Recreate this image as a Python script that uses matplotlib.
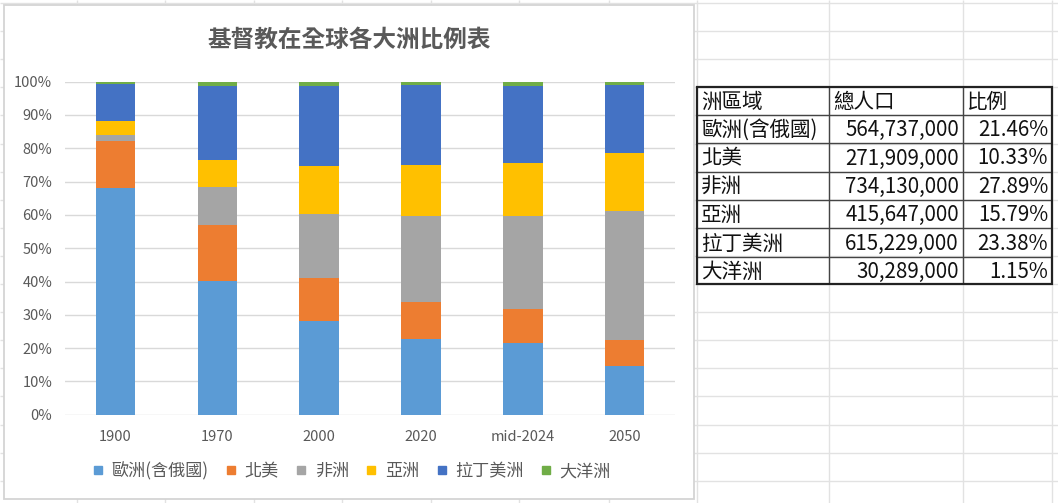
"""Stacked 100% column chart of Christian population share by continent,
next to the small worksheet table it was built from (Excel-style screenshot)."""
import matplotlib

matplotlib.use("Agg")
import matplotlib.pyplot as plt
from matplotlib.lines import Line2D
from matplotlib.patches import Rectangle
from matplotlib.ticker import PercentFormatter
import numpy as np

plt.rcParams["font.family"] = ["Noto Sans CJK TC", "DejaVu Sans"]

# ---- data -------------------------------------------------------------
years = ["1900", "1970", "2000", "2020", "mid-2024", "2050"]
regions = ["歐洲(含俄國)", "北美", "非洲", "亞洲", "拉丁美洲", "大洋洲"]
colors = ["#5B9BD5", "#ED7D31", "#A5A5A5", "#FFC000", "#4472C4", "#70AD47"]

# share of each continent (%) per year
europe = [68.2, 40.1, 28.2, 22.6, 21.46, 14.7]
north_america = [14.1, 16.8, 13.0, 11.1, 10.33, 7.7]
africa = [1.8, 11.5, 19.2, 26.1, 27.89, 38.7]
asia = [4.0, 8.0, 14.2, 15.3, 15.79, 17.6]
latin_america = [11.1, 22.2, 24.2, 23.8, 23.38, 20.3]
oceania = [0.8, 1.4, 1.2, 1.1, 1.15, 1.0]

# worksheet table (mid-2024)
table_header = ["洲區域", "總人口", "比例"]
table_pop = [564737000, 271909000, 734130000, 415647000, 615229000, 30289000]

W, H = 1058, 503
fig = plt.figure(figsize=(W / 100, H / 100), dpi=100)

# background "sheet" axes in pixel coordinates
bg = fig.add_axes([0, 0, 1, 1])
bg.set_xlim(0, W)
bg.set_ylim(H, 0)
bg.axis("off")

# Excel cell grid
sheet_cols = [76.7, 165, 254, 342, 431, 519, 609, 697, 829, 963, 1052]
sheet_rows = 3 + 28.1 * np.arange(18)
bg.vlines(sheet_cols, 0, H, color="#E2E2E2", lw=1, zorder=1)
bg.hlines(sheet_rows, 0, W, color="#E2E2E2", lw=1, zorder=1)

# chart area
bg.add_patch(Rectangle((4, 5), 690, 494, facecolor="white",
                       edgecolor="#D4D4D4", lw=1.3, zorder=2))
bg.text(349, 40, "基督教在全球各大洲比例表", ha="center", va="center",
        fontsize=17, fontweight="bold", color="#595959", zorder=3)

# table
t_cols = [697, 829, 963, 1052]
t_rows = [87.3, 115, 143.3, 171.7, 200, 228.3, 256.7, 284.3]
bg.hlines(t_rows[1:-1], t_cols[0], t_cols[-1], color="#444444", lw=1, zorder=3)
bg.vlines(t_cols[1:-1], t_rows[0], t_rows[-1], color="#444444", lw=1, zorder=3)
bg.add_patch(Rectangle((t_cols[0], t_rows[0]), t_cols[-1] - t_cols[0],
                       t_rows[-1] - t_rows[0], fill=False,
                       edgecolor="#222222", lw=1.6, zorder=4))
total = sum(table_pop)
fs_tab = 14.8
for j, head in enumerate(table_header):
    yc = (t_rows[0] + t_rows[1]) / 2 + 1
    bg.text(t_cols[j] + 4, yc, head, ha="left", va="center",
            fontsize=fs_tab, color="#111111", zorder=5)
for i, (name, pop) in enumerate(zip(regions, table_pop)):
    yc = (t_rows[i + 1] + t_rows[i + 2]) / 2 + 1
    bg.text(t_cols[0] + 4, yc, name, ha="left", va="center",
            fontsize=fs_tab, color="#111111", zorder=5)
    bg.text(t_cols[2] - 4, yc, f"{pop:,}", ha="right", va="center",
            fontsize=fs_tab, color="#111111", zorder=5)
    bg.text(t_cols[3] - 4, yc, f"{pop / total:.2%}", ha="right", va="center",
            fontsize=fs_tab, color="#111111", zorder=5)

# ---- chart ------------------------------------------------------------
left, right, top, bottom = 64.7, 675.4, 81.7, 414.7
ax = fig.add_axes([left / W, 1 - bottom / H, (right - left) / W, (bottom - top) / H])
ax.set_zorder(5)
ax.patch.set_alpha(0)

series = [europe, north_america, africa, asia, latin_america, oceania]
x = np.arange(len(years))
base = np.zeros(len(years))
for vals, col in zip(series, colors):
    v = np.array(vals) / 100
    ax.bar(x, v, bottom=base, width=0.39, color=col, lw=0, zorder=3)
    base += v

ax.set_xlim(-0.5, len(years) - 0.5)
ax.set_ylim(0, 1)
ax.set_yticks(np.arange(0, 1.01, 0.1))
ax.yaxis.set_major_formatter(PercentFormatter(1.0, decimals=0))
ax.set_xticks(x, years)
ax.grid(axis="y", color="#D9D9D9", lw=1, zorder=0)
for s in ["left", "right", "top", "bottom"]:
    ax.spines[s].set_visible(False)
ax.tick_params(axis="both", length=0, colors="#595959", labelsize=10.5)
ax.tick_params(axis="y", pad=9)
ax.tick_params(axis="x", pad=11)
for lab in ax.get_xticklabels():
    lab.set_fontweight("medium")

handles = [Line2D([], [], ls="none", marker="s", markersize=6,
                  markerfacecolor=c, markeredgecolor=c) for c in colors]
ax.legend(handles, regions, loc="center", bbox_to_anchor=(352 / W, 1 - 471 / H),
          bbox_transform=fig.transFigure, ncol=6, frameon=False, fontsize=12.3,
          handlelength=0.6, handletextpad=0.5, columnspacing=1.0,
          labelcolor="#595959")

fig.savefig("out.png", dpi=100)
